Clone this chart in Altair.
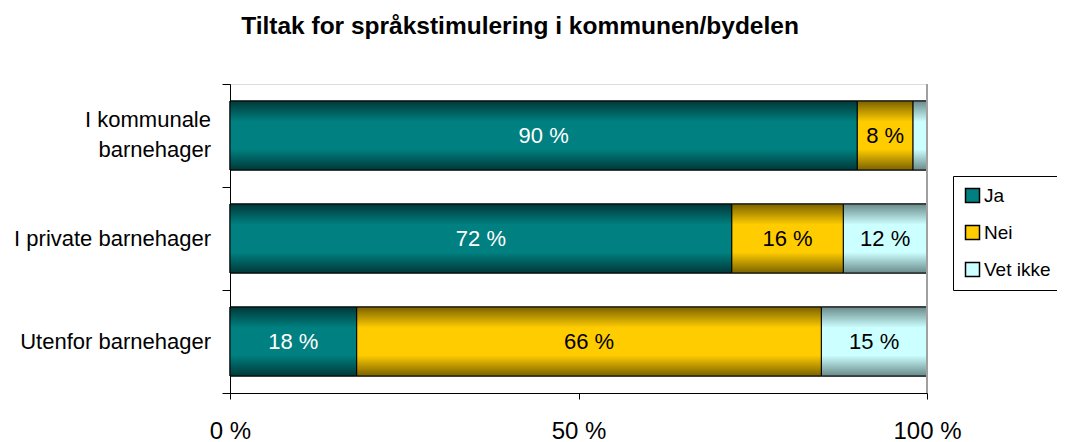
import altair as alt
import pandas as pd

title_text = ["Tiltak for språkstimulering i kommunen/bydelen"]
categories = ["I kommunale\nbarnehager\u00a0\u00a0", "I private barnehager", "Utenfor barnehager"]
series = ["Ja", "Nei", "Vet ikke"]
ja = [90, 72, 18]
nei = [8, 16, 66]
vet_ikke = [2, 12, 15]

rows = []
for i, c in enumerate(categories):
    for j, (s, vals) in enumerate(zip(series, [ja, nei, vet_ikke])):
        rows.append({"cat": c, "series": s, "order": j, "value": vals[i]})
df = pd.DataFrame(rows)
cat_df = pd.DataFrame({"cat": categories})

flat = {"Ja": "#008080", "Nei": "#FFCC00", "Vet ikke": "#CCFFFF"}
dark = {"Ja": "#003838", "Nei": "#7a6200", "Vet ikke": "#6a8a8a"}

FONT = "Liberation Sans"

base = alt.Chart(df).transform_joinaggregate(
    total="sum(value)", groupby=["cat"]
).transform_calculate(
    pct="datum.value / datum.total"
).transform_window(
    cum="sum(pct)", sort=[alt.SortField("order")], groupby=["cat"]
).transform_calculate(
    start="datum.cum - datum.pct",
    mid="datum.cum - datum.pct / 2",
)

y_enc = alt.Y(
    "cat:N",
    sort=categories,
    title=None,
    scale=alt.Scale(paddingInner=0, paddingOuter=0),
    axis=alt.Axis(
        labels=False,
        tickBand="extent",
        tickSize=8,
        tickColor="#000000",
        domainColor="#000000",
    ),
)

x_enc = alt.X(
    "start:Q",
    title=None,
    scale=alt.Scale(domain=[0, 1], nice=False),
    axis=alt.Axis(
        values=[0, 0.5, 1],
        labelExpr="format(datum.value * 100, 'd') + ' %'",
        labelFontSize=24,
        labelFont=FONT,
        labelColor="#000000",
        labelPadding=20,
        tickSize=6,
        tickColor="#000000",
        domainColor="#000000",
        grid=False,
        labelFlush=False,
    ),
)

BAR_SIZE = 69

legend_bars = base.mark_bar(stroke="#000000", strokeWidth=1, size=BAR_SIZE).encode(
    y=y_enc,
    x=x_enc,
    x2="cum:Q",
    color=alt.Color(
        "series:N",
        sort=series,
        scale=alt.Scale(domain=series, range=[flat[s] for s in series]),
        legend=alt.Legend(
            title=None,
            orient="none",
            legendX=723,
            legendY=92,
            symbolType="square",
            symbolSize=196,
            symbolStrokeColor="#000000",
            symbolStrokeWidth=1.5,
            labelFontSize=19,
            labelFont=FONT,
            labelColor="#000000",
            rowPadding=16,
            padding=10,
            strokeColor="#000000",
            fillColor="#ffffff",
            labelOffset=2,
        ),
    ),
)


def grad(s):
    return alt.LinearGradient(
        gradient="linear",
        x1=0, y1=0, x2=0, y2=1,
        stops=[
            alt.GradientStop(offset=0, color=dark[s]),
            alt.GradientStop(offset=0.3, color=flat[s]),
            alt.GradientStop(offset=0.7, color=flat[s]),
            alt.GradientStop(offset=1, color=dark[s]),
        ],
    )


grad_layers = [
    base.transform_filter(alt.datum.series == s)
    .mark_bar(fill=grad(s), stroke="#000000", strokeWidth=1, size=BAR_SIZE)
    .encode(y=y_enc, x=x_enc, x2="cum:Q")
    for s in series
]

labels = base.transform_filter("datum.value >= 5").transform_calculate(
    label="datum.value + ' %'"
).mark_text(
    fontSize=22, font=FONT, baseline="middle", align="center"
).encode(
    y=y_enc,
    x=alt.X("mid:Q"),
    text=alt.Text("label:N"),
    color=alt.condition(alt.datum.series == "Ja", alt.value("#ffffff"), alt.value("#000000")),
)

cat_base = alt.Chart(cat_df).transform_calculate(
    lines="split(datum.cat, '\\n')",
    nlines="length(split(datum.cat, '\\n'))",
)
cat_single = cat_base.transform_filter("datum.nlines == 1").mark_text(
    fontSize=22, font=FONT, color="#000000", align="right", baseline="middle"
).encode(y=y_enc, x=alt.value(-19), text="cat:N")
cat_multi = cat_base.transform_filter("datum.nlines > 1").mark_text(
    fontSize=22, font=FONT, color="#000000", align="right", baseline="middle",
    lineHeight=30, dy=-16,
).encode(y=y_enc, x=alt.value(-19), text="lines:N")

right_edge = alt.Chart(df).mark_rule(color="#a0a0a0", strokeWidth=1.5).encode(
    x=alt.datum(1)
)

title = alt.Chart(pd.DataFrame({"t": title_text})).mark_text(
    fontSize=24.5, font=FONT, fontWeight="bold", color="#000000",
    align="center", baseline="alphabetic",
).encode(x=alt.value(290), y=alt.value(-50), text="t:N")

chart = alt.layer(
    legend_bars, *grad_layers, labels, cat_single, cat_multi, right_edge, title
).properties(
    width=697,
    height=309,
    autosize=alt.AutoSizeParams(type="none"),
    padding={"left": 222, "top": 76, "right": 130, "bottom": 49},
).configure_view(strokeWidth=0).configure(background="#ffffff")

chart.save("out.html", embed_options={"renderer": "svg", "actions": False})
